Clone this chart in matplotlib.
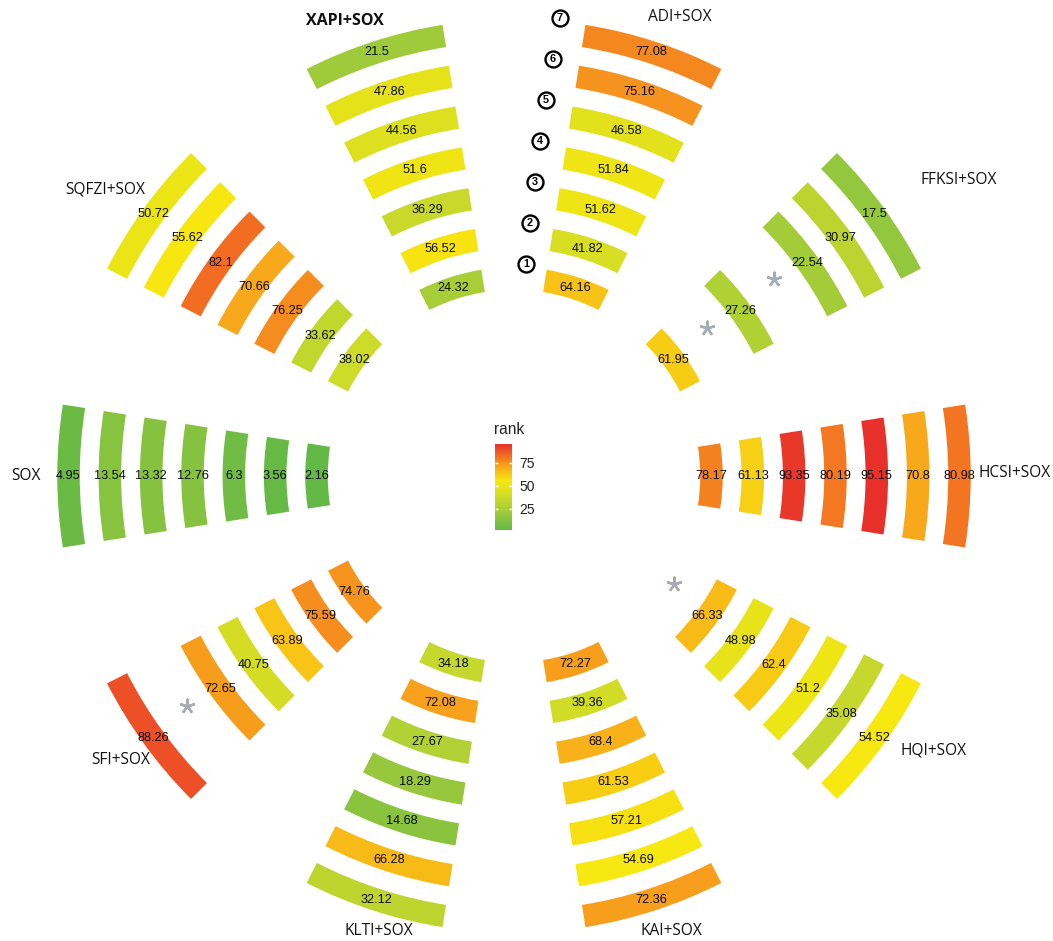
import numpy as np
import matplotlib
matplotlib.use("Agg")
import matplotlib.pyplot as plt
import matplotlib.transforms as mtransforms
from matplotlib.colors import LinearSegmentedColormap, Normalize
from matplotlib.cm import ScalarMappable

# models, counter-clockwise starting from the east
sectors = ["HCSI+SOX", "FFKSI+SOX", "ADI+SOX", "XAPI+SOX", "SQFZI+SOX",
           "SOX", "SFI+SOX", "KLTI+SOX", "KAI+SOX", "HQI+SOX"]

# rank per model, ring 1 (inner) -> ring 7 (outer); nan = no value, shown as *
hcsi = [78.17, 61.13, 93.35, 80.19, 95.15, 70.8, 80.98]
ffksi = [61.95, np.nan, 27.26, np.nan, 22.54, 30.97, 17.5]
adi = [64.16, 41.82, 51.62, 51.84, 46.58, 75.16, 77.08]
xapi = [24.32, 56.52, 36.29, 51.6, 44.56, 47.86, 21.5]
sqfzi = [38.02, 33.62, 76.25, 70.66, 82.1, 55.62, 50.72]
sox = [2.16, 3.56, 6.3, 12.76, 13.32, 13.54, 4.95]
sfi = [74.76, 75.59, 63.89, 40.75, 72.65, np.nan, 88.26]
klti = [34.18, 72.08, 27.67, 18.29, 14.68, 66.28, 32.12]
kai = [72.27, 39.36, 68.4, 61.53, 57.21, 54.69, 72.36]
hqi = [np.nan, 66.33, 48.98, 62.4, 51.2, 35.08, 54.52]

ring_names = ["1", "2", "3", "4", "5", "6", "7"]
legend_ticks = [25, 50, 75]

data = [hcsi, ffksi, adi, xapi, sqfzi, sox, sfi, klti, kai, hqi]

# where the model names sit (degrees, radius in px)
label_theta = [0.3, 33.7, 70.1, 110.4, 144.9, 180.0, 215.8, 253.5, 289.1, 326.8]
label_r = [501, 534, 488, 485, 499, 488, 485, 475, 482, 502]

W, H = 1053, 941
fig = plt.figure(figsize=(W / 100, H / 100), dpi=100)
fig.patch.set_facecolor("white")

cx, cy = 514, H - 476
R = 560
ax = fig.add_axes([(cx - R) / W, (cy - R) / H, 2 * R / W, 2 * R / H], projection="polar")
ax.set_ylim(0, R)
ax.set_axis_off()

cmap = LinearSegmentedColormap.from_list("rank", [
    (0.00, "#63b846"), (0.18, "#98c83c"), (0.36, "#c8d92c"), (0.57, "#f7e80f"),
    (0.74, "#f8a71b"), (0.86, "#f26e22"), (1.00, "#e8302a")])
allv = np.concatenate([np.asarray(d, float) for d in data])
norm = Normalize(np.nanmin(allv), np.nanmax(allv))

r1, step, bar_w = 197.5, 41.33, 22.5
rings = r1 + step * np.arange(7)
span = np.deg2rad(18)

star_tf = mtransforms.offset_copy(ax.transData, fig=fig, x=0, y=5.5, units="points")

for i, vals in enumerate(data):
    th = np.deg2rad(36 * i)
    for k, v in enumerate(vals):
        if np.isnan(v):
            ax.plot(th, rings[k], marker=(5, 2, 0), ms=11, mew=1.7,
                    color="#a7acb4", transform=star_tf)
            continue
        ax.bar(th, bar_w, width=span, bottom=rings[k] - bar_w / 2,
               color=cmap(norm(v)), linewidth=0)
        ax.text(th, rings[k], f"{v:g}", ha="center", va="center",
                fontsize=9.2, family="Liberation Sans", color="#0a0a0a")

    bold = sectors[i] == "XAPI+SOX"
    ax.text(np.deg2rad(label_theta[i]), label_r[i], sectors[i], ha="center", va="center",
            fontsize=11.5 if bold else 11.2, fontweight="bold" if bold else "normal",
            family="Open Sans", color="#111111")

# ring numbers between ADI and XAPI
for k, name in enumerate(ring_names):
    th = np.deg2rad(86.8 - k * 2.5 / 6)
    r = rings[k] + 15
    ax.plot(th, r, "o", ms=11.5, mfc="white", mec="black", mew=1.7)
    ax.text(th, r, name, ha="center", va="center", fontsize=7.8,
            fontweight="bold", family="Liberation Sans")

# legend
cax = fig.add_axes([495 / W, (H - 530) / H, 17 / W, 86 / H])
sm = ScalarMappable(norm=norm, cmap=cmap)
cb = fig.colorbar(sm, cax=cax, ticks=legend_ticks)
cb.outline.set_visible(False)
cax.tick_params(length=0, pad=5, labelsize=10, labelcolor="#222222")
for t in cax.get_yticklabels():
    t.set_family("Liberation Sans")
ytf = cax.get_yaxis_transform()
cax.hlines(legend_ticks, 0, 0.2, transform=ytf, colors="white", lw=1)
cax.hlines(legend_ticks, 0.8, 1, transform=ytf, colors="white", lw=1)
fig.text(494 / W, (H - 429) / H, "rank", ha="left", va="center",
         fontsize=11.2, family="Liberation Sans", color="#222222")

fig.savefig("out.png", dpi=100, facecolor="white")
